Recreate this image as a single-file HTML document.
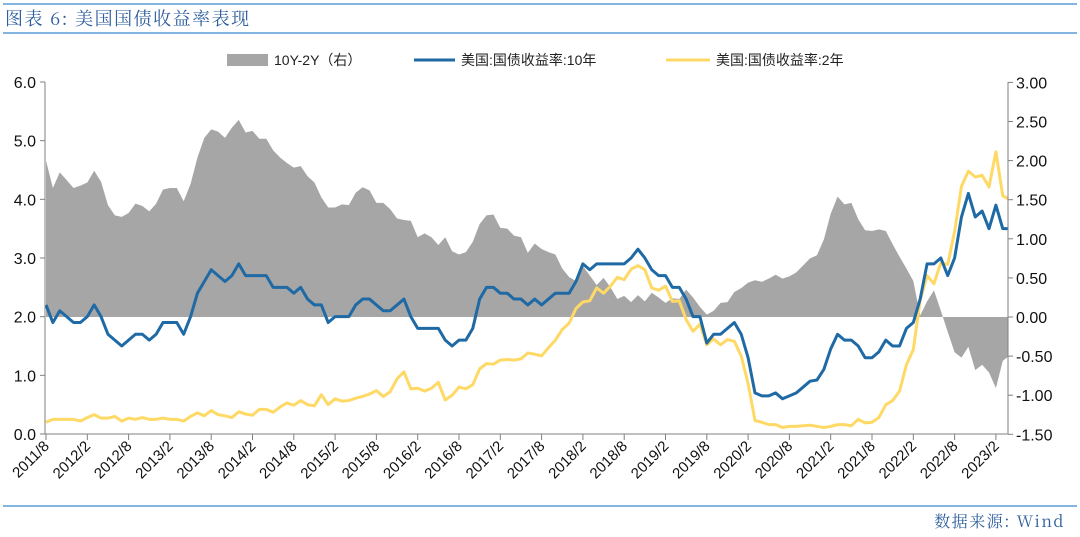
<!DOCTYPE html>
<html><head><meta charset="utf-8"><style>
html,body{margin:0;padding:0;background:#fff;}
svg{display:block;font-family:"Liberation Sans","Noto Sans CJK SC",sans-serif;}
</style></head><body>
<svg id="chart" width="1080" height="537" viewBox="0 0 1080 537" xmlns="http://www.w3.org/2000/svg">
<line x1="3" y1="4" x2="1077" y2="4" stroke="#5b9bd5" stroke-width="1.5"/>
<text x="5" y="25" font-size="18" fill="#2e5e9e" letter-spacing="1.5" font-family="'Noto Serif CJK SC','Liberation Serif',serif">图表 6: 美国国债收益率表现</text>
<line x1="3" y1="33" x2="1077" y2="33" stroke="#5b9bd5" stroke-width="1.5"/>
<line x1="3" y1="506" x2="1077" y2="506" stroke="#5b9bd5" stroke-width="1.5"/>
<text x="1065" y="527" font-size="16" fill="#2e5e9e" letter-spacing="1.5" text-anchor="end" font-family="'Noto Serif CJK SC','Liberation Serif',serif">数据来源: Wind</text>
<g>
<rect x="227" y="54" width="41" height="12" fill="#a6a6a6"/>
<text x="274" y="65" font-size="14" fill="#222">10Y-2Y（右）</text>
<line x1="414" y1="60" x2="455" y2="60" stroke="#1f6aa5" stroke-width="3"/>
<text x="461" y="65" font-size="14" fill="#222">美国:国债收益率:10年</text>
<line x1="666" y1="60" x2="710" y2="60" stroke="#ffd966" stroke-width="3"/>
<text x="716" y="65" font-size="14" fill="#222">美国:国债收益率:2年</text>
</g>
<g id="plot"></g>
</svg>
<script>
const startYear = 2011, startMonth = 8;
const y10 = [2.2,1.9,2.1,2.0,1.9,
1.9,2.0,2.2,2.0,1.7,1.6,1.5,1.6,1.7,1.7,1.6,1.7,
1.9,1.9,1.9,1.7,2.0,2.4,2.6,2.8,2.7,2.6,2.7,2.9,
2.7,2.7,2.7,2.7,2.5,2.5,2.5,2.4,2.5,2.3,2.2,2.2,
1.9,2.0,2.0,2.0,2.2,2.3,2.3,2.2,2.1,2.1,2.2,2.3,
2.0,1.8,1.8,1.8,1.8,1.6,1.5,1.6,1.6,1.8,2.3,2.5,
2.5,2.4,2.4,2.3,2.3,2.2,2.3,2.2,2.3,2.4,2.4,2.4,
2.6,2.9,2.8,2.9,2.9,2.9,2.9,2.9,3.0,3.15,3.0,2.8,
2.7,2.7,2.5,2.5,2.3,2.0,2.0,1.55,1.7,1.7,1.8,1.9,
1.7,1.3,0.7,0.65,0.65,0.7,0.6,0.65,0.7,0.8,0.9,0.92,
1.1,1.45,1.7,1.6,1.6,1.5,1.3,1.3,1.4,1.6,1.5,1.5,
1.8,1.9,2.3,2.9,2.9,3.0,2.7,3.0,3.7,4.1,3.7,3.8,
3.5,3.9,3.5,3.5];
const y2 = [0.2,0.25,0.25,0.25,0.25,
0.22,0.28,0.33,0.27,0.27,0.3,0.22,0.27,0.25,0.28,0.25,0.25,
0.27,0.25,0.25,0.22,0.3,0.36,0.31,0.4,0.33,0.31,0.28,0.38,
0.34,0.32,0.42,0.42,0.37,0.46,0.53,0.49,0.57,0.5,0.48,0.67,
0.5,0.6,0.56,0.57,0.61,0.64,0.68,0.74,0.64,0.72,0.94,1.06,
0.77,0.78,0.73,0.78,0.88,0.58,0.66,0.8,0.77,0.84,1.11,1.2,
1.19,1.26,1.27,1.26,1.28,1.38,1.36,1.33,1.47,1.6,1.78,1.89,
2.14,2.25,2.27,2.49,2.4,2.52,2.67,2.63,2.81,2.87,2.8,2.49,
2.45,2.52,2.26,2.27,1.95,1.75,1.87,1.52,1.62,1.52,1.61,1.58,
1.33,0.86,0.23,0.2,0.16,0.16,0.11,0.13,0.13,0.14,0.15,0.13,
0.11,0.13,0.16,0.16,0.14,0.25,0.19,0.2,0.28,0.5,0.57,0.73,
1.18,1.44,2.28,2.7,2.56,2.92,2.89,3.45,4.22,4.48,4.38,4.41,
4.21,4.81,4.06,4.01];
const leftTicks = ["0.0","1.0","2.0","3.0","4.0","5.0","6.0"];
const rightTicks = ["-1.50","-1.00","-0.50","0.00","0.50","1.00","1.50","2.00","2.50","3.00"];
const xTickLabels = ["2011/8","2012/2","2012/8","2013/2","2013/8","2014/2","2014/8","2015/2","2015/8","2016/2","2016/8","2017/2","2017/8","2018/2","2018/8","2019/2","2019/8","2020/2","2020/8","2021/2","2021/8","2022/2","2022/8","2023/2"];

const NS = "http://www.w3.org/2000/svg";
const plot = document.getElementById('plot');
const X0 = 46, MONTH = 41.3/6, XR = 1008;
const x = i => X0 + i*MONTH;
const yL = v => 434 - v*58.67;
const yR = v => 317 - v*78.2;
function mk(tag, attrs){const e=document.createElementNS(NS,tag);for(const k in attrs)e.setAttribute(k,attrs[k]);plot.appendChild(e);return e;}

const spread = y10.map((v,i)=>v-y2[i]);
let d = "M"+x(0)+","+yR(0);
spread.forEach((s,i)=>{d+=" L"+Math.min(x(i),XR)+","+yR(s);});
d += " L"+Math.min(x(spread.length-1),XR)+","+yR(0)+" Z";
const area = mk('path',{d:d,fill:'#a6a6a6'});



function line(arr, color, name){
  const p = arr.map((v,i)=>Math.min(x(i),XR)+","+yL(v)).join(" ");
  const el = mk('polyline',{points:p,fill:'none',stroke:color,'stroke-width':3,'stroke-linejoin':'round'});
  
  
}
line(y2,'#ffd966','series-2y');
line(y10,'#1f6aa5','series-10y');

const ax = mk('path',{d:"M45,82 V434 H1008 V82",fill:'none',stroke:'#808080','stroke-width':1});


leftTicks.forEach((t,i)=>{
  const yy = yL(+t);
  mk('line',{x1:40,x2:45,y1:yy,y2:yy,stroke:'#808080'});
  const tx = mk('text',{x:36,y:yy+6,'font-size':16,'text-anchor':'end',fill:'#111'});
  tx.textContent = t;
  
  
});
rightTicks.forEach((t,i)=>{
  const yy = yR(+t);
  mk('line',{x1:1008,x2:1013,y1:yy,y2:yy,stroke:'#808080'});
  const tx = mk('text',{x:1016,y:yy+6,'font-size':16,fill:'#111'});
  tx.textContent = t;
  
  
});
xTickLabels.forEach((t,i)=>{
  const xx = x(i*6);
  mk('line',{x1:xx,x2:xx,y1:434,y2:440,stroke:'#808080'});
  const tx = mk('text',{x:xx+4,y:447,'font-size':15,'text-anchor':'end',fill:'#111',transform:'rotate(-45 '+(xx+4)+' 447)'});
  tx.textContent = t;
  
  
});
</script>
</body></html>
